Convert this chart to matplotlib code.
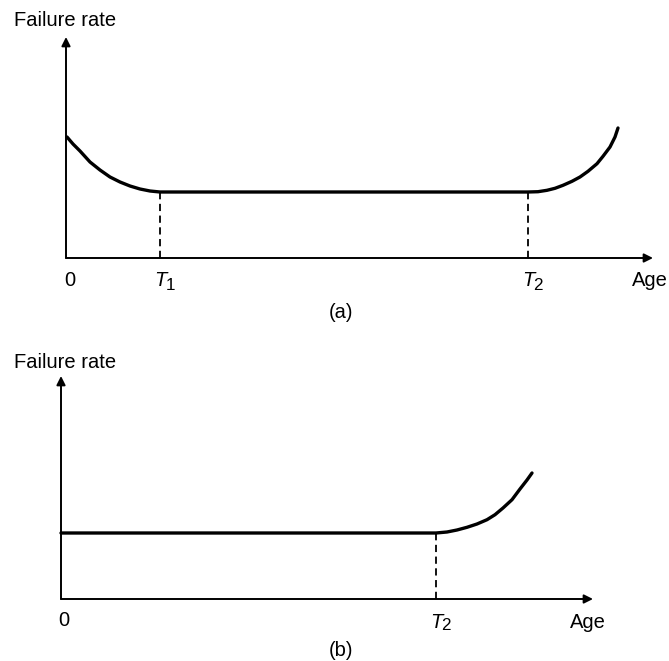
import matplotlib
matplotlib.use("Agg")
import matplotlib.pyplot as plt

plt.rcParams['font.family'] = ['Liberation Sans', 'DejaVu Sans']

# (a) bathtub curve: early failures, constant rate, wear-out
age_a = [0.1, 0.4, 0.7, 1.0, 1.4, 1.9, 2.4, 2.9, 3.4, 3.9, 4.4, 4.9, 5.4,
         5.9, 6.4, 6.9, 7.4, 7.9, 8.4, 8.9, 9.4,
         46.2, 47.2, 48.1, 48.9, 49.7, 50.6, 51.4, 52.2, 53.1, 53.7, 54.4,
         54.9, 55.2]
rate_a = [12.1, 11.75, 11.4, 11.1, 10.7, 10.15, 9.6, 9.2, 8.8, 8.45, 8.1,
          7.85, 7.6, 7.4, 7.2, 7.05, 6.9, 6.8, 6.7, 6.65, 6.6,
          6.6, 6.63, 6.77, 6.97, 7.27, 7.67, 8.1, 8.67, 9.43, 10.17, 11.1,
          12.1, 13.0]
t1_a = 9.4
t2_a = 46.2
plateau = 6.6

# (b) no early-failure period
age_b = [0, 37.5, 38.6, 39.6, 40.6, 41.6, 42.6, 43.4, 44.2, 45.1, 45.9,
         46.6, 47.1]
rate_b = [6.6, 6.6, 6.7, 6.9, 7.17, 7.5, 7.93, 8.43, 9.1, 9.93, 11.0,
          11.9, 12.6]
t2_b = 37.5

W, H = 669, 661
fig = plt.figure(figsize=(W / 100, H / 100), dpi=100)
ax_a = fig.add_axes([66 / W, 403 / H, 600 / W, 225 / H])
ax_b = fig.add_axes([61 / W, 62 / H, 600 / W, 225 / H])

FS = 14.5
arrow = dict(arrowstyle='-|>', color='black', lw=1.4, mutation_scale=13,
             shrinkA=0, shrinkB=0)
kw = dict(ha='center', va='center', fontsize=FS, clip_on=False)


def draw_panel(ax, ages, rates, xtip, ytip, marks):
    ax.set_xlim(0, 60)
    ax.set_ylim(0, 22.5)
    ax.axis('off')
    ax.annotate('', xy=(xtip, 0), xytext=(0, 0), arrowprops=arrow,
                annotation_clip=False)
    ax.annotate('', xy=(0, ytip), xytext=(0, 0), arrowprops=arrow,
                annotation_clip=False)
    ax.plot(ages, rates, color='black', lw=2.4, solid_capstyle='round',
            solid_joinstyle='round', clip_on=False)
    for t in marks:
        ax.plot([t, t], [0, plateau], color='black', lw=1.3,
                linestyle=(0, (4, 2.5)), clip_on=False)


def t_label(ax, x, y, sub):
    ax.text(x, y, 'T', style='italic', **kw)
    ax.text(x + 0.55, y - 0.4, sub, ha='left', va='center',
            fontsize=FS * 0.85, clip_on=False)


draw_panel(ax_a, age_a, rate_a, 58.7, 22.1, [t1_a, t2_a])
draw_panel(ax_b, age_b, rate_b, 53.2, 22.3, [t2_b])

ax_a.text(-0.1, 23.8, 'Failure rate', **kw)
ax_a.text(0.4, -2.3, '0', **kw)
t_label(ax_a, t1_a, -2.3, '1')
t_label(ax_a, t2_a, -2.3, '2')
ax_a.text(58.4, -2.2, 'Age', **kw)
ax_a.text(27.5, -5.4, '(a)', **kw)

ax_b.text(0.4, 23.7, 'Failure rate', **kw)
ax_b.text(0.3, -2.2, '0', **kw)
t_label(ax_b, t2_b, -2.3, '2')
ax_b.text(52.7, -2.3, 'Age', **kw)
ax_b.text(28.0, -5.1, '(b)', **kw)

fig.savefig('out.png', dpi=100)
